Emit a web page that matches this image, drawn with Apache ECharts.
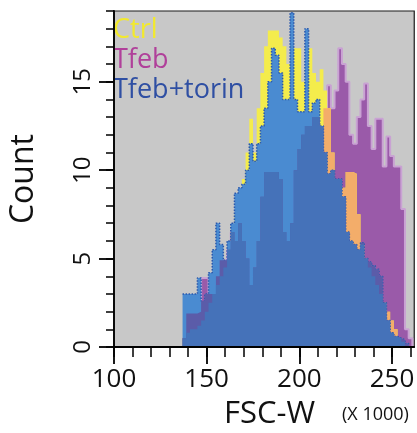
<!DOCTYPE html>
<html>
<head>
<meta charset="utf-8">
<script src="https://cdn.jsdelivr.net/npm/echarts@6.0.0/dist/echarts.min.js"></script>
<style>
  html, body { margin: 0; padding: 0; background: #fff; }
  #chart { width: 417px; height: 433px; }
</style>
</head>
<body>
<div id="chart"></div>
<script>
// histogram bin edges, FSC-W (x 1000)
const fscEdges = [137,139,141,143,145,147,149,151,153,155,157,159,161,163,165,167,169,171,173,175,177,179,181,183,185,187,189,191,193,195,197,199,201,203,205,207,209,211,213,215,217,219,221,223,225,227,229,231,233,235,237,239,241,243,245,247,249,251,253,255,257,259,261];

// counts per bin
const ctrlCounts = [0.5,0.8,1.0,1.0,1.2,1.5,2.0,2.5,3.0,3.5,
  4.0,4.5,5.5,6.5,7.5,8.5,9.5,11.0,12.9,11.0,
  13.5,15.5,17.0,17.9,17.9,17.9,17.5,17.0,16.0,16.0,
  16.9,16.9,15.0,16.0,16.9,15.5,15.0,15.7,14.5,13.5,
  11.0,9.5,9.5,9.0,9.9,9.9,9.8,7.5,5.8,5.0,
  4.5,4.0,3.5,3.0,2.5,2.0,1.5,1.0,0.5,0.3,
  0,0];
const tfebCounts = [0.5,1.9,1.9,1.9,2.0,3.9,3.9,3.0,3.0,4.0,
  4.9,4.9,5.5,6.5,6.0,7.0,6.0,5.0,3.5,4.5,
  6.0,8.5,9.9,9.9,9.9,9.9,9.5,6.5,6.0,7.0,
  10.0,11.2,12.0,12.5,12.5,13.0,13.0,12.5,13.5,14.8,
  13.5,14.5,16.9,16.0,15.0,12.0,11.5,13.0,14.0,14.9,
  12.5,11.2,12.9,12.9,10.2,11.9,10.8,10.2,10.2,7.8,
  1.0,0.5];
const torinCounts = [3.0,3.0,3.0,3.0,3.9,2.6,3.0,4.2,5.5,7.0,
  5.8,4.9,6.0,7.0,8.7,9.0,9.2,10.0,11.5,10.5,
  11.5,12.5,13.5,15.0,16.9,16.5,15.5,14.0,14.0,18.9,
  14.0,13.3,13.3,18.0,13.3,13.8,14.0,12.5,11.0,9.8,
  10.0,9.5,9.5,8.5,6.5,6.0,5.8,5.5,5.9,5.0,
  4.8,4.6,4.4,4.0,2.5,1.5,0.8,0.6,0.5,0.4,
  0.2,0];

const xMajorTicks = [100, 150, 200, 250];
const yMajorTicks = [0, 5, 10, 15];

const font = 'Open Sans';

// step points: each bin starts at its left edge, closed at the last edge
function toPoints(values) {
  return values.map((v, i) => [fscEdges[i], v]).concat([[fscEdges[values.length], 0]]);
}
function overlap(...arrays) {
  return arrays[0].map((v, i) => Math.min(...arrays.map(a => a[i])));
}
// z keeps every layer (area + outline) above the previous one
function areaSeries(name, values, color, z, lineStyle) {
  return {
    name: name,
    type: 'line',
    step: 'end',
    symbol: 'none',
    silent: true,
    z: z,
    data: toPoints(values),
    itemStyle: { color: color },
    lineStyle: lineStyle || { width: 0 },
    areaStyle: { color: color, opacity: 1 }
  };
}

const chart = echarts.init(document.getElementById('chart'));
chart.setOption({
  animation: false,
  textStyle: { fontFamily: font },
  grid: {
    left: 110, right: 2, top: 11, bottom: 86,
    show: true, backgroundColor: '#c8c8c8', borderColor: '#1a1a1a', borderWidth: 1.2
  },
  legend: {
    orient: 'vertical', left: 102, top: 12,
    itemWidth: 0, itemHeight: 0, itemGap: 3,
    selectedMode: false,
    textStyle: { fontSize: 27, fontFamily: font },
    data: [
      { name: 'Ctrl', textStyle: { color: '#f2e92e' } },
      { name: 'Tfeb', textStyle: { color: '#b0409a' } },
      { name: 'Tfeb+torin', textStyle: { color: '#2f4fa3' } }
    ]
  },
  xAxis: [
    {
      type: 'value', min: 100, max: 262, interval: 10, z: 20,
      splitLine: { show: false },
      axisLine: { lineStyle: { color: '#000', width: 1.8 } },
      axisTick: { length: 10, lineStyle: { color: '#000', width: 1.5 } },
      axisLabel: {
        margin: 20, fontSize: 26, color: '#111', showMaxLabel: false,
        formatter: v => (xMajorTicks.includes(v) ? String(v) : '')
      }
    },
    {
      type: 'value', min: 100, max: 262, interval: 50, z: 20, position: 'bottom',
      splitLine: { show: false },
      axisLine: { show: false },
      axisTick: { length: 17, customValues: xMajorTicks, lineStyle: { color: '#000', width: 1.8 } },
      axisLabel: { show: false }
    }
  ],
  yAxis: [
    {
      type: 'value', min: 0, max: 19, interval: 1, z: 20, position: 'left',
      splitLine: { show: false },
      axisLine: { lineStyle: { color: '#000', width: 1.8 } },
      axisTick: { length: 8, lineStyle: { color: '#000', width: 1.5 } },
      axisLabel: {
        margin: 19, fontSize: 24, color: '#111', rotate: 90,
        formatter: v => (yMajorTicks.includes(v) ? String(v) : '')
      },
      name: 'Count', nameLocation: 'middle', nameGap: 74,
      nameTextStyle: { fontSize: 32, color: '#111', fontFamily: font }
    },
    {
      type: 'value', min: 0, max: 19, interval: 5, z: 20, position: 'left', offset: 0,
      splitLine: { show: false },
      axisLine: { show: false },
      axisTick: { length: 15, customValues: yMajorTicks, lineStyle: { color: '#000', width: 1.8 } },
      axisLabel: { show: false }
    }
  ],
  graphic: [
    { type: 'text', left: 224, top: 399, style: { text: 'FSC-W', fontSize: 31, fontFamily: font, fill: '#111' } },
    { type: 'text', left: 342, top: 406, style: { text: '(X 1000)', fontSize: 18, fontFamily: font, fill: '#111' } }
  ],
  series: [
    areaSeries('Tfeb', tfebCounts, '#9a5aa9', 2, { color: '#c9a2d3', width: 2 }),
    areaSeries('Ctrl', ctrlCounts, '#f4ec4c', 3),
    areaSeries('Ctrl & Tfeb', overlap(ctrlCounts, tfebCounts), '#f3ad6a', 4),
    areaSeries('Tfeb+torin', torinCounts, '#4a8bd1', 5, { color: '#2a58ad', width: 1.5, type: 'dotted' }),
    areaSeries('Tfeb+torin & Tfeb', overlap(torinCounts, tfebCounts), '#5b5ca9', 6),
    areaSeries('all three', overlap(torinCounts, tfebCounts, ctrlCounts), '#4572b9', 7)
  ]
});
</script>
</body>
</html>
